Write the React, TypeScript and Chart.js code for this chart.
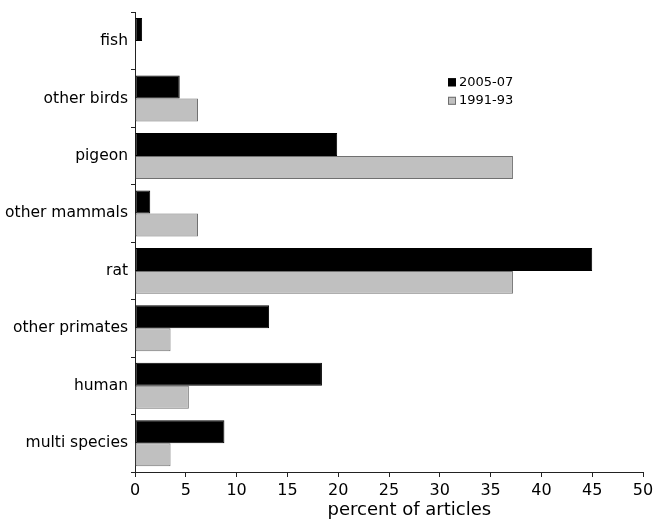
import React, { useEffect, useRef } from "react";
import { Chart, registerables } from "chart.js";

Chart.register(...registerables);

const categories = [
  "fish",
  "other birds",
  "pigeon",
  "other mammals",
  "rat",
  "other primates",
  "human",
  "multi species",
];
const series2005 = [0.7, 4.4, 19.9, 1.5, 45.0, 13.2, 18.4, 8.8];
const series1991 = [0, 6.2, 37.2, 6.2, 37.2, 3.5, 5.3, 3.5];
const seriesNames = ["2005-07", "1991-93"];
const xTitle = "percent of articles";

const FONT = "'DejaVu Sans', Verdana, sans-serif";

export default function App() {
  const ref = useRef<HTMLCanvasElement | null>(null);
  useEffect(() => {
    if (!ref.current) return;
    const overlay = {
      id: "overlay",
      afterDraw(chart: any) {
        const ctx = chart.ctx;
        const ca = chart.chartArea;
        ctx.save();
        // legend
        const lx = ca.left + 313;
        const items = [
          { t: seriesNames[0], fill: "#000000", stroke: "#000000", y: ca.top + 70 },
          { t: seriesNames[1], fill: "#c0c0c0", stroke: "#6e6e6e", y: ca.top + 88.5 },
        ];
        ctx.font = "13px " + FONT;
        ctx.textBaseline = "middle";
        ctx.textAlign = "left";
        items.forEach((it) => {
          ctx.fillStyle = it.fill;
          ctx.fillRect(lx, it.y - 4, 8, 8);
          ctx.strokeStyle = it.stroke;
          ctx.lineWidth = 1;
          ctx.strokeRect(lx + 0.5, it.y - 3.5, 7, 7);
          ctx.fillStyle = "#000";
          ctx.fillText(it.t, lx + 11, it.y);
        });
        // x title
        ctx.font = "18px " + FONT;
        ctx.textAlign = "center";
        ctx.fillStyle = "#000";
        ctx.fillText(xTitle, ca.left + (ca.right - ca.left) * 0.54, ca.bottom + 38);
        ctx.restore();
      },
    };
    const chart = new Chart(ref.current, {
      type: "bar",
      data: {
        labels: categories,
        datasets: [
          {
            label: seriesNames[0],
            data: series2005,
            backgroundColor: "#000000",
            borderColor: "#000000",
            borderWidth: 1,
            borderSkipped: false,
            categoryPercentage: 0.8,
            barPercentage: 1.0,
          },
          {
            label: seriesNames[1],
            data: series1991,
            backgroundColor: "#c0c0c0",
            borderColor: "#707070",
            borderWidth: 1,
            borderSkipped: false,
            categoryPercentage: 0.8,
            barPercentage: 1.0,
          },
        ],
      },
      options: {
        indexAxis: "y",
        animation: false,
        responsive: true,
        maintainAspectRatio: false,
        layout: { padding: { top: 9, right: 0, left: 0, bottom: 0 } },
        plugins: {
          legend: { display: false },
          tooltip: { enabled: false },
          title: { display: false },
        },
        scales: {
          y: {
            type: "category",
            offset: true,
            grid: {
              offset: true,
              drawOnChartArea: false,
              drawTicks: true,
              tickLength: 4,
              color: "#222",
            },
            border: { display: true, color: "#222", width: 1 },
            ticks: {
              color: "#000",
              padding: 3,
              font: { family: FONT, size: 15.5 },
            },
            afterFit: (s: any) => {
              s.width = 135;
            },
          },
          x: {
            min: 0,
            max: 50,
            grid: {
              drawOnChartArea: false,
              drawTicks: true,
              tickLength: 5,
              color: "#222",
            },
            border: { display: true, color: "#222", width: 1 },
            ticks: {
              stepSize: 5,
              color: "#000",
              padding: 4,
              maxRotation: 0,
              font: { family: FONT, size: 16 },
            },
            afterFit: (s: any) => {
              s.height = 50;
              s.paddingRight = 11;
              s.paddingLeft = 0;
            },
          },
        },
      },
      plugins: [overlay],
    } as any);
    return () => chart.destroy();
  }, []);
  return (
    <div style={{ position: "absolute", left: 0, top: 0, width: 654, height: 522, background: "#fff" }}>
      <canvas ref={ref} />
    </div>
  );
}
